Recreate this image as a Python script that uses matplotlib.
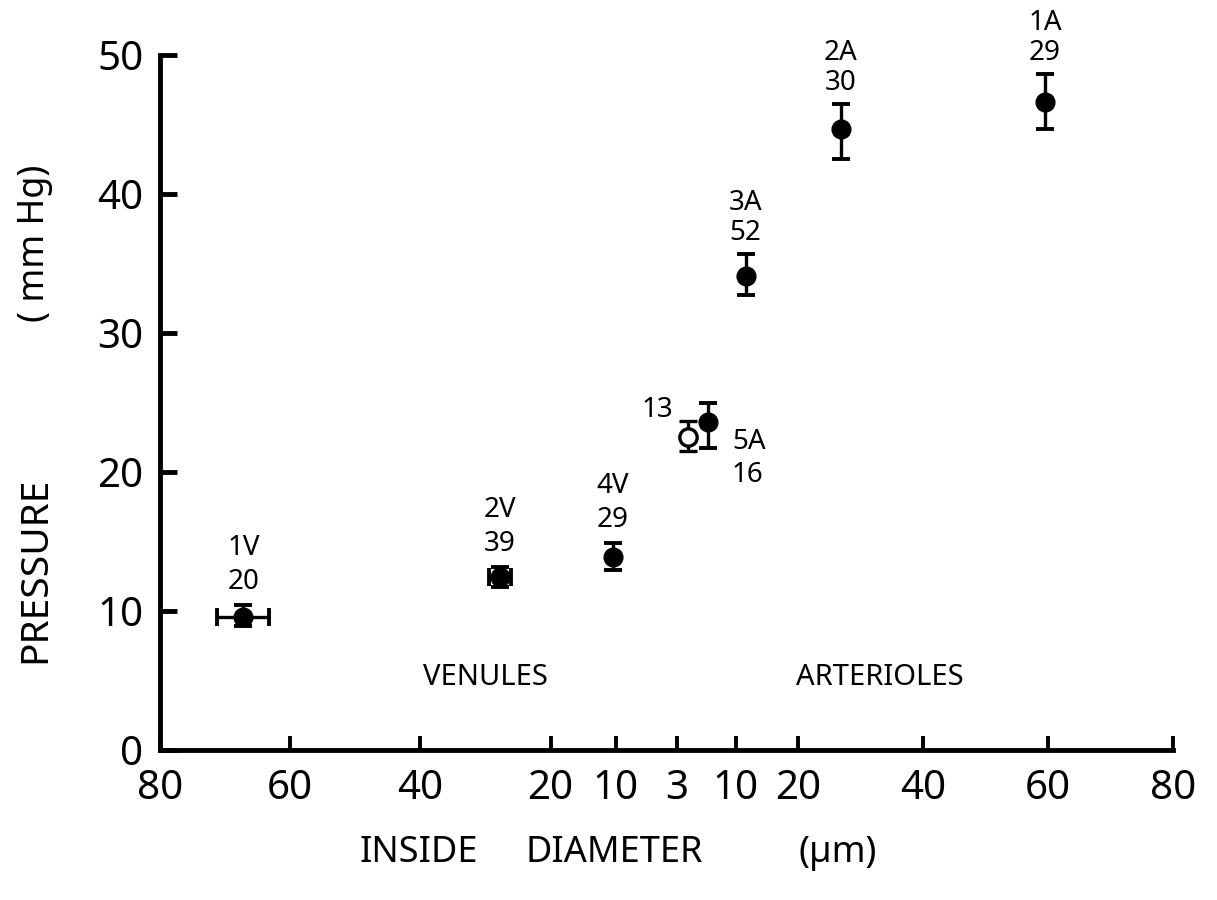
import numpy as np
import matplotlib
matplotlib.use("Agg")
import matplotlib.pyplot as plt

# ---- data -------------------------------------------------------------
# venules: class, number of vessels, diameter (um), pressure (mm Hg)
ven_names = ["1V", "2V", "4V"]
ven_n = [20, 39, 29]
ven_diam = [67.2, 27.8, 10.4]
ven_diam_err = [4.0, 1.7, 0.0]
ven_pressure = [9.6, 12.45, 13.9]
ven_p_lo = [0.7, 0.75, 0.95]
ven_p_hi = [0.8, 0.75, 1.0]

# capillaries (open symbol)
cap_n = 13
cap_diam = 4.3
cap_pressure = 22.5
cap_p_lo = 1.0
cap_p_hi = 1.2

# arterioles
art_names = ["5A", "3A", "2A", "1A"]
art_n = [16, 52, 30, 29]
art_diam = [6.7, 11.6, 26.8, 59.5]
art_pressure = [23.6, 34.1, 44.7, 46.6]
art_p_lo = [1.9, 1.4, 2.2, 1.9]
art_p_hi = [1.4, 1.6, 1.8, 2.0]

ven_ticks = [80, 60, 40, 20, 10]
cap_tick = 3
art_ticks = [10, 20, 40, 60, 80]
y_ticks = [0, 10, 20, 30, 40, 50]

# ---- broken diameter axis ---------------------------------------------
# venules run 80 -> 10 left to right, a short capillary stretch around 3 um,
# then arterioles run 10 -> 80.
CAP_X = 79.4
ART_X10 = 88.4
ART_SCALE = 0.96


def venule_x(d):
    d = np.asarray(d, float)
    return np.where(d >= 10, 80 - d, 70 + (10 - d) * (CAP_X - 70) / 7)


def arteriole_x(d):
    d = np.asarray(d, float)
    return np.where(d >= 10, ART_X10 + (d - 10) * ART_SCALE,
                    CAP_X + (d - 3) * (ART_X10 - CAP_X) / 7)


FONT = "Noto Sans"
plt.rcParams["font.family"] = [FONT, "DejaVu Sans"]
plt.rcParams["font.weight"] = "medium"

fig = plt.figure(figsize=(12.17, 9.0), dpi=100)
ax = fig.add_axes([160 / 1217, 150 / 900, (1173 - 160) / 1217, (750 - 55) / 900])

PX = 0.72  # points per pixel at 100 dpi
err_kw = dict(fmt="o", color="black", ms=13.5, elinewidth=2.4,
              capsize=6.5, capthick=2.8, zorder=3)
lab_kw = dict(textcoords="offset points", ha="center", va="center",
              fontsize=20, color="black")

# venules
for name, n, d, de, p, lo, hi in zip(ven_names, ven_n, ven_diam, ven_diam_err,
                                     ven_pressure, ven_p_lo, ven_p_hi):
    x = float(venule_x(d))
    xerr = de if de > 0 else None
    ax.errorbar(x, p, yerr=[[lo], [hi]], xerr=xerr, **err_kw)
    ax.annotate(str(n), xy=(x, p + hi), xytext=(0, 23 * PX), **lab_kw)
    ax.annotate(name, xy=(x, p + hi), xytext=(0, 57 * PX), **lab_kw)

# capillaries
xc = float(arteriole_x(cap_diam))
ax.errorbar(xc, cap_pressure, yerr=[[cap_p_lo], [cap_p_hi]],
            fmt="o", mfc="white", mec="black", mew=2.4, color="black",
            ms=12.5, elinewidth=2.4, capsize=6.5, capthick=2.8, zorder=3)
ax.annotate(str(cap_n), xy=(xc, cap_pressure), xytext=(-30 * PX, 27 * PX), **lab_kw)

# arterioles
for name, n, d, p, lo, hi in zip(art_names, art_n, art_diam, art_pressure,
                                 art_p_lo, art_p_hi):
    x = float(arteriole_x(d))
    ax.errorbar(x, p, yerr=[[lo], [hi]], **err_kw)
    if name == "5A":
        ax.annotate(name, xy=(x, p), xytext=(41 * PX, -20 * PX), **lab_kw)
        ax.annotate(str(n), xy=(x, p), xytext=(39 * PX, -53 * PX), **lab_kw)
    else:
        ax.annotate(str(n), xy=(x, p + hi), xytext=(0, 21 * PX), **lab_kw)
        ax.annotate(name, xy=(x, p + hi), xytext=(0, 51 * PX), **lab_kw)

# region labels
ax.text(50, 5.2, "VENULES", ha="center", va="center", fontsize=21)
ax.text(110.6, 5.2, "ARTERIOLES", ha="center", va="center", fontsize=21)

# axes
x_end = float(arteriole_x(80))
ax.set_xlim(float(venule_x(80)), x_end)
ax.set_ylim(0, 50)

xt = list(venule_x(ven_ticks)) + [CAP_X] + list(arteriole_x(art_ticks))
xl = [str(v) for v in ven_ticks] + [str(cap_tick)] + [str(v) for v in art_ticks]
ax.set_xticks(xt)
ax.set_xticklabels(xl)
ax.set_yticks(y_ticks)

for s in ["top", "right"]:
    ax.spines[s].set_visible(False)
for s in ["left", "bottom"]:
    ax.spines[s].set_linewidth(3.5)
    ax.spines[s].set_capstyle("projecting")

ax.tick_params(axis="x", direction="in", length=10, width=2.8, pad=14,
               labelsize=29)
ax.tick_params(axis="y", direction="in", length=12, width=3.5, pad=12,
               labelsize=29)

# axis titles
fig.text(419 / 1217, 1 - 853 / 900, "INSIDE", ha="center", va="center", fontsize=26)
fig.text(614 / 1217, 1 - 853 / 900, "DIAMETER", ha="center", va="center", fontsize=26)
fig.text(838 / 1217, 1 - 853 / 900, "(\u00b5m)", ha="center", va="center", fontsize=26)
fig.text(35 / 1217, 1 - 570 / 900, "PRESSURE", ha="center", va="center",
         fontsize=28, rotation=90)
fig.text(35 / 1217, 1 - 243 / 900, "( mm Hg)", ha="center", va="center",
         fontsize=26, rotation=90)

fig.savefig("out.png", dpi=100, facecolor="white")
